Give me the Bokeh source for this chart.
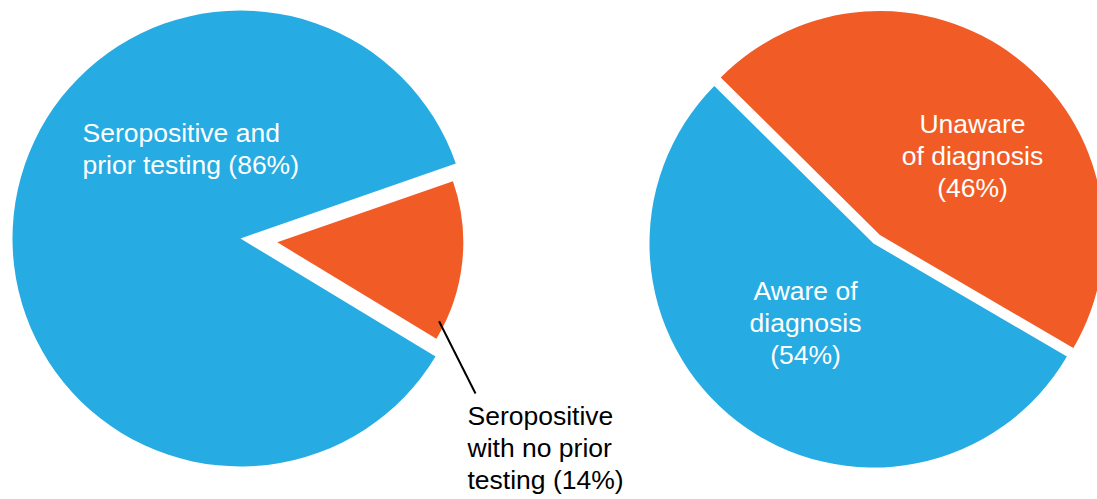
import math

from bokeh.core.properties import value
from bokeh.embed import file_html
from bokeh.models import ColumnDataSource, Range1d
from bokeh.plotting import figure
from bokeh.resources import INLINE

# ---- data -------------------------------------------------------------
left_categories = ["Seropositive and prior testing", "Seropositive with no prior testing"]
left_values = [86, 14]
right_categories = ["Aware of diagnosis", "Unaware of diagnosis"]
right_values = [54, 46]

BLUE = "#26ABE2"
ORANGE = "#F15B25"

W, H = 1097, 499


def sy(y):
    """Convert a top-down page coordinate into the plot's upward y."""
    return H - y


p = figure(width=W, height=H, output_backend="svg", toolbar_location=None,
           x_range=Range1d(0, W), y_range=Range1d(0, H),
           x_axis_location=None, y_axis_location=None, min_border=0)
p.grid.visible = False
p.outline_line_color = None
p.background_fill_color = "white"
p.border_fill_color = "white"


def pie(cx, cy, radii, vals, colors, start_deg, explode, pull):
    """Draw a pie; slices flagged in `explode` are pulled out by `pull` px."""
    total = float(sum(vals))
    a = math.radians(start_deg)
    rows = dict(x=[], y=[], r=[], s=[], e=[], c=[])
    for v, col, rad, ex in zip(vals, colors, radii, explode):
        span = 2 * math.pi * v / total
        mid = a + span / 2
        d = pull if ex else 0.0
        rows["x"].append(cx + d * math.cos(mid))
        rows["y"].append(cy + d * math.sin(mid))
        rows["r"].append(rad)
        rows["s"].append(a)
        rows["e"].append(a + span)
        rows["c"].append(col)
        a += span
    src = ColumnDataSource(rows)
    p.wedge(x="x", y="y", radius="r", start_angle="s", end_angle="e",
            fill_color="c", line_color=None, source=src)
    return rows


# Left pie: the small slice is drawn first (starting below the horizontal)
left = pie(240, sy(238), [186, 228], [left_values[1], left_values[0]],
           [ORANGE, BLUE], -31.2, [True, False], 37)

# Right pie: the "unaware" slice is pulled out towards the upper right
right = pie(873, sy(243), [224, 224], [right_values[1], right_values[0]],
            [ORANGE, BLUE], -30.3, [True, False], 10.6)

FONT = value("Liberation Sans")
FS = "26.5px"
LH = 1.08

p.text(x=[82], y=[sy(117)],
       text=[f"Seropositive and\nprior testing ({left_values[0]}%)"],
       text_color="white", text_font=FONT, text_font_size=FS,
       text_align="left", text_baseline="top", text_line_height=LH)

p.text(x=[467], y=[sy(400)],
       text=[f"Seropositive\nwith no prior\ntesting ({left_values[1]}%)"],
       text_color="black", text_font=FONT, text_font_size=FS,
       text_align="left", text_baseline="top", text_line_height=LH)

p.text(x=[972], y=[sy(108)],
       text=[f"Unaware\nof diagnosis\n({right_values[1]}%)"],
       text_color="white", text_font=FONT, text_font_size=FS,
       text_align="center", text_baseline="top", text_line_height=LH)

p.text(x=[805], y=[sy(275)],
       text=[f"Aware of\ndiagnosis\n({right_values[0]}%)"],
       text_color="white", text_font=FONT, text_font_size=FS,
       text_align="center", text_baseline="top", text_line_height=LH)

# Leader line from the small slice to its label
ox, oy = left["x"][0], left["y"][0]
ang = math.radians(-26.0)
p.line(x=[ox + 180 * math.cos(ang), 475], y=[oy + 180 * math.sin(ang), sy(393)],
       line_color="black", line_width=2)

open("out.html", "w").write(file_html(p, INLINE))
